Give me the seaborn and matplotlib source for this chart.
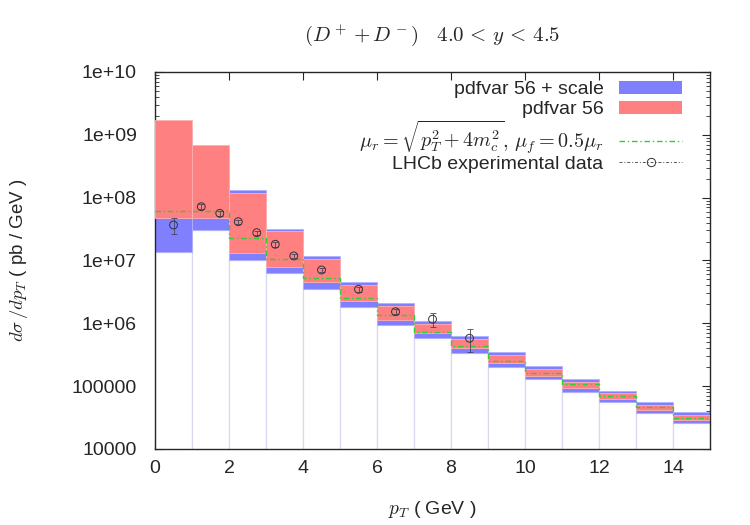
import numpy as np
import pandas as pd
import matplotlib
matplotlib.use("Agg")
import matplotlib.pyplot as plt
from matplotlib.patches import Patch
from matplotlib.lines import Line2D
import seaborn as sns

# --- data (bins of 1 GeV, 0..15) ---
bin_lo = np.arange(0, 15)
central = [6.1e7, 6.1e7, 2.25e7, 1.04e7, 5.2e6, 2.5e6, 1.36e6, 7.4e5, 4.35e5,
           2.54e5, 1.6e5, 1.07e5, 6.97e4, 4.72e4, 3.15e4]
red_hi = [1.7e9, 6.9e8, 1.2e8, 2.95e7, 1.06e7, 4.07e6, 1.89e6, 9.75e5, 5.56e5,
          3.13e5, 1.88e5, 1.16e5, 7.7e4, 5.08e4, 3.48e4]
red_lo = [4.7e7, 4.7e7, 1.3e7, 7.96e6, 4.5e6, 2.29e6, 1.13e6, 6.9e5, 4.0e5,
          2.36e5, 1.47e5, 9.4e4, 6.24e4, 4.17e4, 2.89e4]
blue_hi = [1.2e9, 5.0e8, 1.32e8, 3.17e7, 1.19e7, 4.6e6, 2.13e6, 1.1e6, 6.3e5,
           3.53e5, 2.12e5, 1.3e5, 8.5e4, 5.67e4, 3.88e4]
blue_lo = [1.36e7, 3.05e7, 1.02e7, 6.25e6, 3.5e6, 1.84e6, 9.4e5, 5.8e5, 3.41e5,
           2.04e5, 1.3e5, 8.15e4, 5.53e4, 3.7e4, 2.56e4]

# LHCb points
lhcb_pt = [0.5, 1.25, 1.75, 2.25, 2.75, 3.25, 3.75, 4.5, 5.5, 6.5, 7.5, 8.5]
lhcb_val = [3.67e7, 7.18e7, 5.63e7, 4.14e7, 2.77e7, 1.81e7, 1.18e7, 7.06e6,
            3.48e6, 1.53e6, 1.16e6, 5.78e5]
lhcb_err = [1.0e7, 6.0e6, 4.5e6, 3.3e6, 2.2e6, 1.5e6, 1.0e6, 6.0e5,
            3.0e5, 1.4e5, 3.0e5, 2.3e5]

ytick_vals = [1e4, 1e5, 1e6, 1e7, 1e8, 1e9, 1e10]
ytick_labels = ["10000", "100000", "1e+06", "1e+07", "1e+08", "1e+09", "1e+10"]

BLUE = "#8080ff"
RED = "#ff8080"
GREEN = "#33cc33"
DASHDOT = (0, (4, 2, 1, 2))

sns.set_style("ticks")
plt.rcParams["font.family"] = ["Liberation Sans", "DejaVu Sans"]
plt.rcParams["mathtext.fontset"] = "cm"
plt.rcParams["font.size"] = 14

fig = plt.figure(figsize=(7.5, 5.25), dpi=100)
ax = fig.add_axes([0.2067, 0.1448, 0.74, 0.7181])
ax.set_yscale("log")

lo = np.array(blue_lo)
# white boxes underneath with pale edges
ax.bar(bin_lo, lo - 1e3, bottom=1e3, width=1, align="edge",
       color="white", edgecolor="#d8d8f0", linewidth=0.9, zorder=1)
ax.bar(bin_lo, np.array(blue_hi) - lo, bottom=lo, width=1, align="edge",
       color=BLUE, edgecolor="#b0b0ff", linewidth=0.6, zorder=2)
ax.bar(bin_lo, np.array(red_hi) - np.array(red_lo), bottom=red_lo, width=1,
       align="edge", color=RED, edgecolor="#ffb0b0", linewidth=0.6, zorder=3)

# central curve as steps
steps = pd.DataFrame({"pt": np.append(bin_lo, 15), "val": central + [central[-1]]})
sns.lineplot(data=steps, x="pt", y="val", drawstyle="steps-post", color=GREEN,
             linestyle=DASHDOT, linewidth=1.0, ax=ax, zorder=4, legend=False)

# data points
ax.errorbar(lhcb_pt, lhcb_val, yerr=lhcb_err, fmt="none", ecolor="#444466",
            elinewidth=0.6, capsize=2, capthick=0.6, zorder=5)
sns.scatterplot(x=lhcb_pt, y=lhcb_val, marker="o", s=32, facecolor="none",
                edgecolor="#333333", linewidth=0.7, ax=ax, zorder=6)

ax.set_xlim(0, 15)
ax.set_ylim(1e4, 1e10)
ax.set_xticks(range(0, 15, 2))
ax.set_yticks(ytick_vals, ytick_labels)
ax.tick_params(which="both", direction="in", top=True, right=True)
ax.tick_params(which="major", length=6, width=0.8)
ax.tick_params(axis="y", which="major", pad=13)
ax.tick_params(axis="x", which="major", pad=8)
ax.tick_params(which="minor", length=3, width=0.6)
ax.tick_params(axis="x", which="minor", bottom=False, top=False)
for s in ax.spines.values():
    s.set_linewidth(1.0)

ax.set_xlabel(r"$p_T$ ( GeV )", labelpad=16)
ax.set_ylabel(r"$d\sigma\,/dp_T$ ( pb / GeV )", labelpad=30, fontsize=13.5)
ax.set_title(r"$(D^+ + D^-) \quad 4.0 \,<\, y \,<\, 4.5$", pad=22, fontsize=15)

leg_kw = dict(loc="upper right", frameon=False, markerfirst=False,
              borderaxespad=0, borderpad=0, handlelength=3.25,
              handleheight=0.6, handletextpad=0.8, numpoints=1, fontsize=14)

top_handles = [Patch(facecolor=BLUE, edgecolor="none"),
               Patch(facecolor=RED, edgecolor="none")]
top_labels = ["pdfvar 56 + scale", "pdfvar 56"]
leg1 = ax.legend(top_handles, top_labels, bbox_to_anchor=(0.95, 0.975),
                 labelspacing=0.15, **leg_kw)
ax.add_artist(leg1)

low_handles = [
    Line2D([], [], color=GREEN, linestyle=DASHDOT, linewidth=1.0),
    Line2D([], [], color="#555555", linestyle=(0, (3, 2, 1, 2)), linewidth=0.7,
           marker="o", markersize=6, markerfacecolor="none",
           markeredgecolor="#333333", markeredgewidth=0.7),
]
low_labels = [r"$\mu_r = \sqrt{p_T^2 + 4m_c^2},\, \mu_f = 0.5\mu_r$",
              "LHCb experimental data"]
leg2 = ax.legend(low_handles, low_labels, bbox_to_anchor=(0.95, 0.878),
                 labelspacing=0.0, **leg_kw)
leg2.get_texts()[0].set_fontsize(14.5)

fig.savefig("out.png", dpi=100)
